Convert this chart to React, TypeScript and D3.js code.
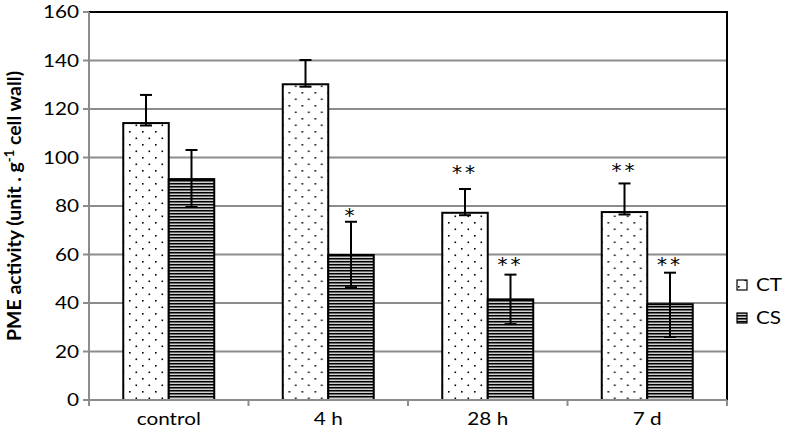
import React from "react";
import * as d3 from "d3";

const categories = ["control", "4 h", "28 h", "7 d"];
const series = ["CT", "CS"];
const ctValues = [114.2, 130.2, 77.2, 77.5];
const csValues = [91.1, 59.8, 41.5, 39.5];
const ctErrUp = [11.6, 10.0, 9.8, 11.8];
const ctErrDown = [1.0, 1.0, 1.0, 1.0];
const csErrUp = [12.0, 13.7, 10.2, 13.0];
const csErrDown = [11.5, 13.3, 10.2, 13.5];
const ctSig = ["", "", "**", "**"];
const csSig = ["", "*", "**", "**"];
const ctSigLevel = [0, 0, 95.3, 95.9];
const csSigLevel = [0, 77.5, 57.5, 57.5];
const yTicks = [0, 20, 40, 60, 80, 100, 120, 140, 160];

const W = 799, H = 438;
const L = 89, R = 727, T = 12, B = 400;
const SX = 1.22;

export default function App() {
  const y = d3.scaleLinear().domain([0, 160]).range([B, T]);
  const x0 = d3.scaleBand().domain(categories).range([L, R]).padding(0);
  const x1 = d3.scaleBand().domain(series).range([0, x0.bandwidth()]).paddingInner(0).paddingOuter(0.753);
  const font = "Lato, 'Open Sans', sans-serif";

  const rows = categories.map((c, i) => ({
    c,
    bars: [
      { s: "CT", v: ctValues[i], up: ctErrUp[i], dn: ctErrDown[i], sig: ctSig[i], lvl: ctSigLevel[i] },
      { s: "CS", v: csValues[i], up: csErrUp[i], dn: csErrDown[i], sig: csSig[i], lvl: csSigLevel[i] },
    ],
  }));

  return (
    <svg width={W} height={H} style={{ position: "absolute", left: 0, top: 0, background: "#fff" }}>
      <defs>
        <pattern id="dots" patternUnits="userSpaceOnUse" width="13" height="13" x="0" y="0">
          <rect width="13" height="13" fill="#fff" />
          <rect x="1" y="1" width="1.6" height="1.6" fill="#000" />
          <rect x="7.5" y="7.5" width="1.6" height="1.6" fill="#000" />
        </pattern>
        <pattern id="hlines" patternUnits="userSpaceOnUse" width="8" height="3">
          <rect width="8" height="3" fill="#d0d0d0" />
          <rect y="0" width="8" height="1.5" fill="#000" />
        </pattern>
      </defs>
      <rect x={0} y={0} width={W} height={H} fill="#fff" />
      {yTicks.map((t) => (
        <line key={t} x1={L} x2={R} y1={y(t)} y2={y(t)} stroke={t === 160 ? "#000" : "#8c8c8c"} strokeWidth={2} />
      ))}
      <line x1={R} x2={R} y1={T - 1} y2={B} stroke="#000" strokeWidth={2} />
      <line x1={L} x2={L} y1={T} y2={B + 1} stroke="#8c8c8c" strokeWidth={2} />
      {yTicks.map((t) => (
        <g key={"yt" + t}>
          <line x1={L - 6} x2={L} y1={y(t)} y2={y(t)} stroke="#8c8c8c" strokeWidth={2} />
          <text transform={`translate(${L - 10},${y(t)}) scale(${SX},1)`} dy="0.36em" textAnchor="end" fontFamily={font} fontSize={17} fill="#000">{t}</text>
        </g>
      ))}
      {rows.map((r) => (
        <g key={r.c} transform={`translate(${x0(r.c)},0)`}>
          {r.bars.map((b) => {
            const bx = x1(b.s)!;
            const bw = x1.bandwidth();
            const cx = bx + bw / 2;
            return (
              <g key={b.s}>
                <rect x={bx} y={y(b.v)} width={bw} height={B - y(b.v)} fill={b.s === "CT" ? "url(#dots)" : "url(#hlines)"} stroke="#000" strokeWidth={2} />
                <line x1={cx} x2={cx} y1={y(b.v + b.up)} y2={y(b.v - b.dn)} stroke="#000" strokeWidth={2} />
                <line x1={cx - 6} x2={cx + 6} y1={y(b.v + b.up)} y2={y(b.v + b.up)} stroke="#000" strokeWidth={2} />
                <line x1={cx - 6} x2={cx + 6} y1={y(b.v - b.dn)} y2={y(b.v - b.dn)} stroke="#000" strokeWidth={2} />
                {b.sig && (
                  <text x={cx} y={y(b.lvl) + 10} textAnchor="middle" fontFamily="'DejaVu Sans', sans-serif" fontSize={20} fill="#000" letterSpacing={3}>{b.sig}</text>
                )}
              </g>
            );
          })}
        </g>
      ))}
      <line x1={L - 1} x2={R} y1={B} y2={B} stroke="#8c8c8c" strokeWidth={2} />
      {[...categories.map((c) => x0(c)!), R].map((xv, i) => (
        <line key={"xt" + i} x1={xv} x2={xv} y1={B} y2={B + 6} stroke="#8c8c8c" strokeWidth={2} />
      ))}
      {categories.map((c) => (
        <text key={"xl" + c} transform={`translate(${x0(c)! + x0.bandwidth() / 2},425) scale(${SX},1)`} textAnchor="middle" fontFamily={font} fontSize={17} fill="#000">{c}</text>
      ))}
      <text transform={`translate(21,${206}) rotate(-90)`} textAnchor="middle" fontFamily={font} fontSize={19.5} fontWeight="bold" fill="#000">
        PME activity (unit . g<tspan dy="-7" fontSize={13}>-1</tspan><tspan dy="7"> cell wall)</tspan>
      </text>
      {series.map((s, i) => (
        <g key={"lg" + s} transform={`translate(737,${285 + i * 33})`}>
          <rect x={0} y={-5} width={10} height={10} fill={s === "CT" ? "url(#dots)" : "url(#hlines)"} stroke="#000" strokeWidth={1.2} />
          <text transform={`translate(19,0) scale(${SX},1)`} dy="0.36em" fontFamily={font} fontSize={17} fill="#000">{s}</text>
        </g>
      ))}
    </svg>
  );
}
